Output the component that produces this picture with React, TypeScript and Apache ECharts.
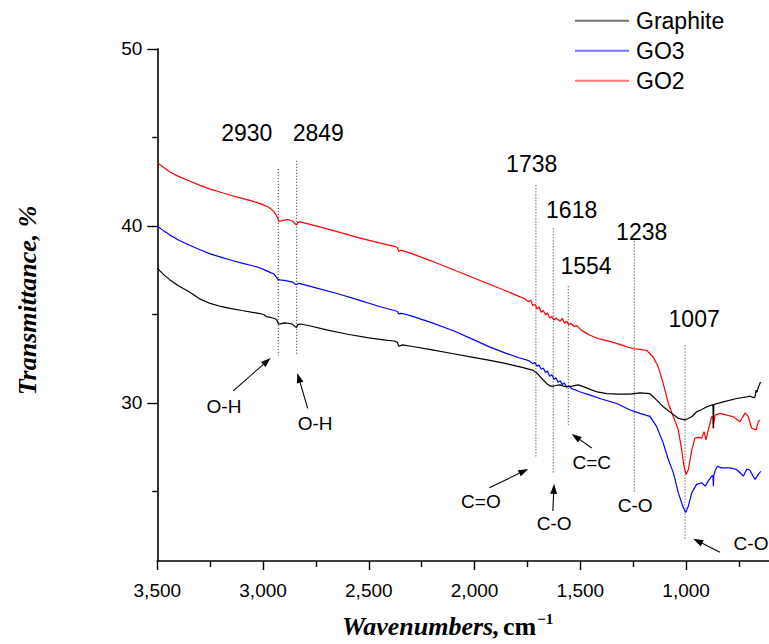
import React, { useEffect, useRef } from 'react';
import * as echarts from 'echarts';

const seriesNames = ['Graphite', 'GO3', 'GO2'];
const seriesColors = ['#000000', '#0000ff', '#ff0000'];

const graphite: [number, number][] = [
  [3500, 37.62], [3470, 37.25], [3440, 36.95], [3400, 36.62], [3350, 36.28], [3300, 35.88], [3250, 35.62],
  [3200, 35.45], [3150, 35.33], [3100, 35.22], [3050, 35.12], [3014, 35.05], [2995, 34.98], [2985, 34.88],
  [2975, 34.86], [2955, 34.8], [2940, 34.74], [2932, 34.62], [2926, 34.45], [2918, 34.47], [2900, 34.52],
  [2882, 34.5], [2862, 34.45], [2848, 34.3], [2842, 34.26], [2836, 34.42], [2825, 34.46], [2780, 34.36],
  [2700, 34.13], [2600, 33.88], [2500, 33.68], [2420, 33.55], [2378, 33.5], [2365, 33.42], [2358, 33.2],
  [2350, 33.24], [2340, 33.28], [2300, 33.2], [2200, 33.0], [2100, 32.78], [2000, 32.56], [1927, 32.4],
  [1850, 32.22], [1780, 32.02], [1722, 31.84], [1700, 31.62], [1680, 31.35], [1660, 31.1], [1643, 30.96],
  [1628, 30.94], [1612, 31.0], [1595, 31.02], [1580, 30.95], [1564, 30.9], [1540, 30.95], [1510, 31.02],
  [1486, 30.92], [1450, 30.75], [1420, 30.62], [1375, 30.53], [1320, 30.5], [1265, 30.5], [1218, 30.57],
  [1171, 30.52], [1139, 30.16], [1108, 29.78], [1068, 29.41], [1037, 29.13], [1005, 29.04], [973, 29.22],
  [950, 29.5], [926, 29.63], [902, 29.78], [879, 29.88], [873, 29.9], [871, 28.57], [869, 29.9], [863, 29.93],
  [824, 30.06], [761, 30.25], [713, 30.34], [698, 30.38], [680, 30.3], [674, 30.34], [669, 30.72], [665, 30.6],
  [658, 30.9], [650, 31.13], [647, 31.18],
];

const go3: [number, number][] = [
  [3500, 40.0], [3470, 39.72], [3440, 39.48], [3400, 39.2], [3350, 38.92], [3298, 38.65], [3250, 38.42],
  [3200, 38.24], [3150, 38.06], [3100, 37.9], [3050, 37.75], [3014, 37.62], [2990, 37.5], [2977, 37.43],
  [2965, 37.36], [2950, 37.3], [2938, 37.12], [2930, 36.98], [2920, 36.95], [2900, 36.92], [2882, 36.88],
  [2860, 36.82], [2846, 36.7], [2840, 36.69], [2832, 36.76], [2825, 36.74], [2750, 36.5], [2650, 36.18],
  [2550, 35.82], [2450, 35.45], [2380, 35.22], [2366, 35.18], [2358, 35.02], [2350, 35.06], [2340, 35.05],
  [2300, 34.92], [2200, 34.52], [2100, 34.08], [2000, 33.55], [1927, 33.15], [1850, 32.8], [1790, 32.55],
  [1760, 32.45], [1740, 32.36], [1725, 32.22], [1715, 32.28], [1705, 32.08], [1695, 32.14], [1685, 31.9],
  [1675, 31.98], [1665, 31.72], [1655, 31.8], [1645, 31.5], [1635, 31.6], [1625, 31.32], [1615, 31.42],
  [1605, 31.16], [1595, 31.26], [1585, 31.04], [1575, 31.12], [1565, 30.9], [1555, 30.98], [1540, 30.8],
  [1520, 30.72], [1500, 30.62], [1454, 30.44], [1400, 30.22], [1328, 29.97], [1265, 29.6], [1218, 29.41],
  [1171, 29.24], [1139, 28.66], [1108, 27.73], [1084, 26.8], [1060, 26.05], [1037, 24.93], [1016, 24.18],
  [1002, 23.81], [989, 24.18], [973, 24.93], [950, 25.4], [926, 25.49], [910, 25.3], [895, 25.58],
  [879, 25.86], [873, 25.9], [871, 25.3], [869, 25.9], [862, 26.2], [852, 26.42], [832, 26.33], [793, 26.33],
  [761, 26.24], [740, 26.0], [729, 25.86], [713, 26.27], [698, 26.2], [685, 25.9], [674, 25.68], [658, 25.96],
  [647, 26.14],
];

const go2: [number, number][] = [
  [3500, 43.58], [3470, 43.3], [3440, 43.05], [3400, 42.8], [3350, 42.55], [3298, 42.29], [3250, 42.08],
  [3200, 41.9], [3150, 41.72], [3100, 41.56], [3050, 41.4], [3014, 41.26], [2985, 41.12], [2965, 40.98],
  [2950, 40.82], [2938, 40.62], [2930, 40.4], [2924, 40.24], [2915, 40.28], [2900, 40.33], [2882, 40.36],
  [2862, 40.28], [2848, 40.12], [2842, 40.04], [2835, 40.2], [2825, 40.23], [2750, 40.0], [2650, 39.68],
  [2550, 39.34], [2450, 39.04], [2380, 38.84], [2366, 38.8], [2358, 38.55], [2350, 38.62], [2340, 38.6],
  [2300, 38.45], [2200, 38.0], [2100, 37.52], [2000, 37.04], [1927, 36.69], [1850, 36.32], [1790, 36.02],
  [1765, 35.9], [1745, 35.72], [1735, 35.8], [1725, 35.5], [1715, 35.58], [1705, 35.3], [1695, 35.42],
  [1685, 35.12], [1675, 35.22], [1665, 34.98], [1655, 35.08], [1645, 34.8], [1635, 34.88], [1625, 34.68],
  [1615, 34.78], [1605, 34.7], [1595, 34.62], [1585, 34.78], [1575, 34.5], [1565, 34.62], [1555, 34.42],
  [1545, 34.5], [1530, 34.32], [1515, 34.35], [1500, 34.15], [1480, 34.0], [1454, 33.82], [1407, 33.6],
  [1360, 33.48], [1297, 33.24], [1265, 33.12], [1249, 33.06], [1218, 33.03], [1186, 32.96], [1155, 32.58],
  [1131, 32.02], [1108, 31.09], [1084, 29.97], [1060, 29.22], [1037, 28.48], [1021, 27.36], [1010, 26.42],
  [1000, 25.96], [989, 26.24], [973, 27.36], [958, 28.01], [940, 28.05], [926, 28.01], [915, 28.38],
  [906, 27.92], [895, 28.48], [879, 29.22], [873, 29.2], [871, 28.57], [868, 29.0], [863, 29.31], [840, 29.41],
  [808, 29.31], [777, 29.22], [745, 28.94], [721, 29.44], [706, 29.22], [690, 28.57], [669, 28.48],
  [658, 28.94], [650, 29.04],
];

const seriesData = [graphite, go3, go2];

const X_MIN = 608;
const X_MAX = 3500;
const Y_MIN = 21.07;
const Y_MAX = 50;

const xMajorTicks = [3500, 3000, 2500, 2000, 1500, 1000];
const xMinorTicks = [3250, 2750, 2250, 1750, 1250, 750];
const yMajorTicks = [30, 40, 50];
const yMinorTicks = [25, 35, 45];

const peakLabels = ['2930', '2849', '1738', '1618', '1554', '1238', '1007'];
const peakLineX = [2928, 2841, 1710, 1628, 1557, 1245, 1005];
const peakLineTop = [43.22, 43.68, 42.29, 39.86, 36.59, 39.12, 33.24];
const peakLineBottom = [32.68, 32.68, 26.89, 25.96, 28.76, 24.93, 22.22];
const peakLabelX = [3077, 2739, 1730, 1541, 1473, 1210, 962];
const peakLabelY = [45.24, 45.24, 43.5, 40.88, 37.72, 39.68, 34.73];

const bondLabels = ['O-H', 'O-H', 'C=O', 'C-O', 'C=C', 'C-O', 'C-O'];
const bondLabelX = [3185, 2754, 1970, 1624, 1446, 1241, 693];
const bondLabelY = [29.78, 28.81, 24.41, 23.21, 26.63, 24.18, 22.04];

const arrowTails: [number, number][] = [
  [3141, 30.68], [2789, 29.69], [1930, 25.21], [1630, 23.9], [1446, 27.45], [840, 21.57],
];
const arrowHeads: [number, number][] = [
  [2964, 32.54], [2838, 31.69], [1746, 26.27], [1624, 25.43], [1541, 28.25], [966, 22.32],
];

const fmtThousands = (v: number) => String(v).replace(/\B(?=(\d{3})+(?!\d))/g, ',');

const SANS = 'Liberation Sans';
const SERIF = 'Liberation Serif';

export default function App() {
  const ref = useRef<HTMLDivElement>(null);

  useEffect(() => {
    if (!ref.current) return;
    const chart = echarts.init(ref.current, null, { renderer: 'svg' });

    const axisLineStyle = { color: '#000', width: 1.6 };
    const tickLineStyle = { color: '#000', width: 1.4 };

    const option: any = {
      animation: false,
      backgroundColor: '#ffffff',
      grid: { left: 157.3, top: 48.9, right: 0, bottom: 644 - 565.5, containLabel: false },
      legend: {
        data: seriesNames,
        orient: 'vertical',
        left: 575,
        top: 5.7,
        padding: 0,
        itemGap: 0,
        icon: 'rect',
        itemWidth: 54,
        itemHeight: 2,
        itemStyle: { opacity: 0.55 },
        textStyle: { fontFamily: SANS, fontSize: 23, color: '#000', lineHeight: 30, padding: [0, 0, 0, 2] },
      },
      xAxis: [
        {
          type: 'value',
          inverse: true,
          min: X_MIN,
          max: X_MAX,
          position: 'bottom',
          axisLine: { show: true, onZero: false, lineStyle: axisLineStyle },
          axisTick: { show: true, length: 9, customValues: xMajorTicks, lineStyle: tickLineStyle },
          axisLabel: {
            customValues: xMajorTicks,
            formatter: (v: number) => fmtThousands(v),
            fontFamily: SANS,
            fontSize: 19,
            color: '#000',
            margin: 20,
          },
          splitLine: { show: false },
          name: '{a|Wavenumbers,} {b|cm}{c|−1}',
          nameLocation: 'middle',
          nameGap: 50,
          nameTextStyle: {
            padding: [0, 31, 0, 0],
            rich: {
              a: { fontFamily: SERIF, fontStyle: 'italic', fontWeight: 'bold', fontSize: 26, color: '#000', lineHeight: 30 },
              b: { fontFamily: SERIF, fontWeight: 'bold', fontSize: 26, color: '#000', lineHeight: 30 },
              c: { fontFamily: SERIF, fontWeight: 'bold', fontSize: 15, color: '#000', lineHeight: 30, verticalAlign: 'top', padding: [0, 0, 0, 1] },
            },
          },
        },
        {
          type: 'value',
          inverse: true,
          min: X_MIN,
          max: X_MAX,
          position: 'bottom',
          axisLine: { show: false, onZero: false },
          axisTick: { show: true, length: 6, customValues: xMinorTicks, lineStyle: tickLineStyle },
          axisLabel: { show: false },
          splitLine: { show: false },
        },
      ],
      yAxis: [
        {
          type: 'value',
          min: Y_MIN,
          max: Y_MAX,
          position: 'left',
          axisLine: { show: true, onZero: false, lineStyle: axisLineStyle },
          axisTick: { show: true, length: 10, customValues: yMajorTicks, lineStyle: tickLineStyle },
          axisLabel: {
            customValues: yMajorTicks,
            fontFamily: SANS,
            fontSize: 19,
            color: '#000',
            margin: 15,
          },
          splitLine: { show: false },
          name: 'Transmittance, %',
          nameLocation: 'middle',
          nameGap: 117,
          nameTextStyle: {
            fontFamily: SERIF,
            fontStyle: 'italic',
            fontWeight: 'bold',
            fontSize: 26,
            color: '#000',
            padding: [0, 0, 0, 9],
          },
        },
        {
          type: 'value',
          min: Y_MIN,
          max: Y_MAX,
          position: 'left',
          axisLine: { show: false, onZero: false },
          axisTick: { show: true, length: 5, customValues: yMinorTicks, lineStyle: tickLineStyle },
          axisLabel: { show: false },
          splitLine: { show: false },
        },
      ],
      series: seriesNames.map((name, i) => ({
        name,
        type: 'line',
        xAxisIndex: 0,
        yAxisIndex: 0,
        data: seriesData[i],
        showSymbol: false,
        symbol: 'none',
        lineStyle: { color: seriesColors[i], width: 1.2 },
        itemStyle: { color: seriesColors[i] },
        z: 3 - i,
      })),
    };

    chart.setOption(option);

    const toPx = (p: [number, number]) => chart.convertToPixel({ seriesIndex: 0 }, p) as number[];
    const graphics: any[] = [];

    peakLineX.forEach((x, i) => {
      const a = toPx([x, peakLineTop[i]]);
      const b = toPx([x, peakLineBottom[i]]);
      graphics.push({
        type: 'line',
        shape: { x1: a[0], y1: a[1], x2: b[0], y2: b[1] },
        style: { stroke: '#222', lineWidth: 1, lineDash: [1, 2] },
        silent: true,
      });
    });

    peakLabels.forEach((t, i) => {
      const p = toPx([peakLabelX[i], peakLabelY[i]]);
      graphics.push({
        type: 'text',
        x: p[0],
        y: p[1],
        style: { text: t, fontFamily: SANS, fontSize: 23, fill: '#000', align: 'center', verticalAlign: 'middle' },
        silent: true,
      });
    });

    bondLabels.forEach((t, i) => {
      const p = toPx([bondLabelX[i], bondLabelY[i]]);
      graphics.push({
        type: 'text',
        x: p[0],
        y: p[1],
        style: { text: t, fontFamily: SANS, fontSize: 19, fill: '#000', align: 'center', verticalAlign: 'middle' },
        silent: true,
      });
    });

    arrowTails.forEach((tail, i) => {
      const t = toPx(tail);
      const h = toPx(arrowHeads[i]);
      const dx = h[0] - t[0];
      const dy = h[1] - t[1];
      const len = Math.sqrt(dx * dx + dy * dy) || 1;
      const ux = dx / len;
      const uy = dy / len;
      const headLen = 10;
      const headHalf = 3.4;
      const bx = h[0] - ux * headLen;
      const by = h[1] - uy * headLen;
      graphics.push({
        type: 'line',
        shape: { x1: t[0], y1: t[1], x2: bx, y2: by },
        style: { stroke: '#000', lineWidth: 1.1 },
        silent: true,
      });
      graphics.push({
        type: 'polygon',
        shape: {
          points: [
            [h[0], h[1]],
            [bx - uy * headHalf, by + ux * headHalf],
            [bx + uy * headHalf, by - ux * headHalf],
          ],
        },
        style: { fill: '#000' },
        silent: true,
      });
    });

    chart.setOption({ graphic: graphics });

    return () => chart.dispose();
  }, []);

  return (
    <div
      ref={ref}
      style={{ position: 'fixed', left: 0, top: 0, width: 769, height: 644, background: '#fff' }}
    />
  );
}
